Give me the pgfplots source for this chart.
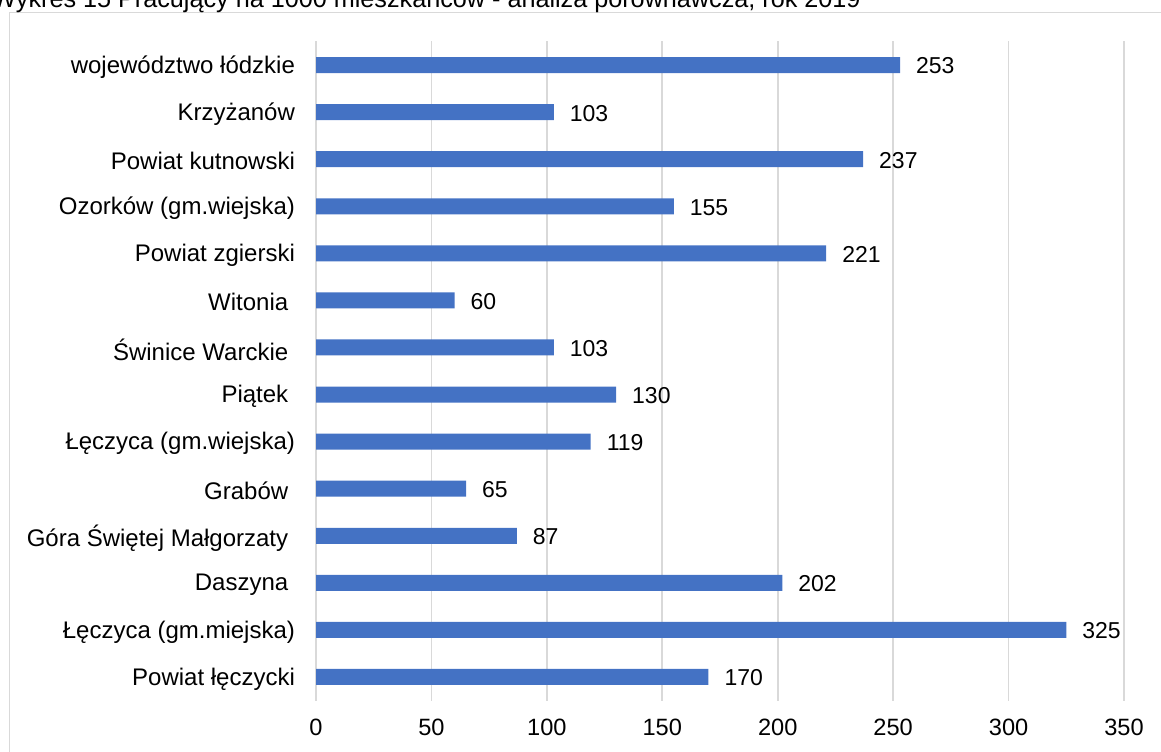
\documentclass[border=0pt]{standalone}
\usepackage{pgfplots}
\pgfplotsset{compat=1.18}
\usepackage{fontspec}
\setmainfont{Liberation Sans}
\definecolor{barblue}{HTML}{4472C4}
\definecolor{gridgray}{HTML}{D9D9D9}
\newcommand{\tsp}{\hspace*{0.28em}}

\pgfplotstableread{
y val
0 170
1 325
2 202
3 87
4 65
5 119
6 130
7 103
8 60
9 221
10 155
11 237
12 103
13 253
}\pracujacy

\begin{document}
\begin{tikzpicture}
  % page = 1161 x 751 px at 0.5pt per px
  \useasboundingbox (0,0) rectangle (580.5pt,375.5pt);
  \clip (0,0) rectangle (580.5pt,375.5pt);

  % outer frame of the chart area (cut by the screenshot)
  \draw[gridgray, line width=0.6pt] (4.75pt,-20pt) -- (4.75pt,369.25pt) -- (620pt,369.25pt);

  % title, only its lower half is visible
  \node[anchor=base west, inner sep=0pt, font=\fontsize{12.6}{14}\selectfont]
    at (-4pt,371.5pt) {Wykres 15 Pracujący na 1000 mieszkańców - analiza porównawcza, rok 2019};

  \begin{axis}[
      at={(158pt,25.25pt)}, anchor=south west,
      scale only axis,
      width=404pt, height=329.5pt,
      xbar, bar width=8pt,
      xmin=0, xmax=350,
      ymin=-0.5, ymax=13.5,
      xtick={0,50,...,350},
      ytick={0,...,13},
      yticklabels={
        Powiat łęczycki,
        Łęczyca (gm.miejska),
        Daszyna\tsp,
        Góra Świętej Małgorzaty\tsp,
        Grabów\tsp,
        Łęczyca (gm.wiejska),
        Piątek\tsp,
        Świnice Warckie\tsp,
        Witonia\tsp,
        Powiat zgierski,
        Ozorków (gm.wiejska),
        Powiat kutnowski,
        Krzyżanów,
        województwo łódzkie},
      major tick length=0pt,
      axis line style={draw=none},
      xmajorgrids,
      grid style={gridgray, line width=0.9pt},
      /pgf/number format/assume math mode=true,
      xticklabel style={font=\fontsize{11.8}{13}\selectfont, anchor=north, yshift=-5.5pt},
      yticklabel style={font=\fontsize{12}{14}\selectfont, anchor=east, xshift=-7pt, yshift=-1pt},
      nodes near coords,
      every node near coord/.append style={
        anchor=west, xshift=4.5pt, yshift=-0.5pt, text=black,
        font=\fontsize{11.5}{13}\selectfont},
      clip=false,
    ]
    \addplot[fill=barblue, draw=none] table[x=val, y=y] {\pracujacy};
  \end{axis}
\end{tikzpicture}
\end{document}
